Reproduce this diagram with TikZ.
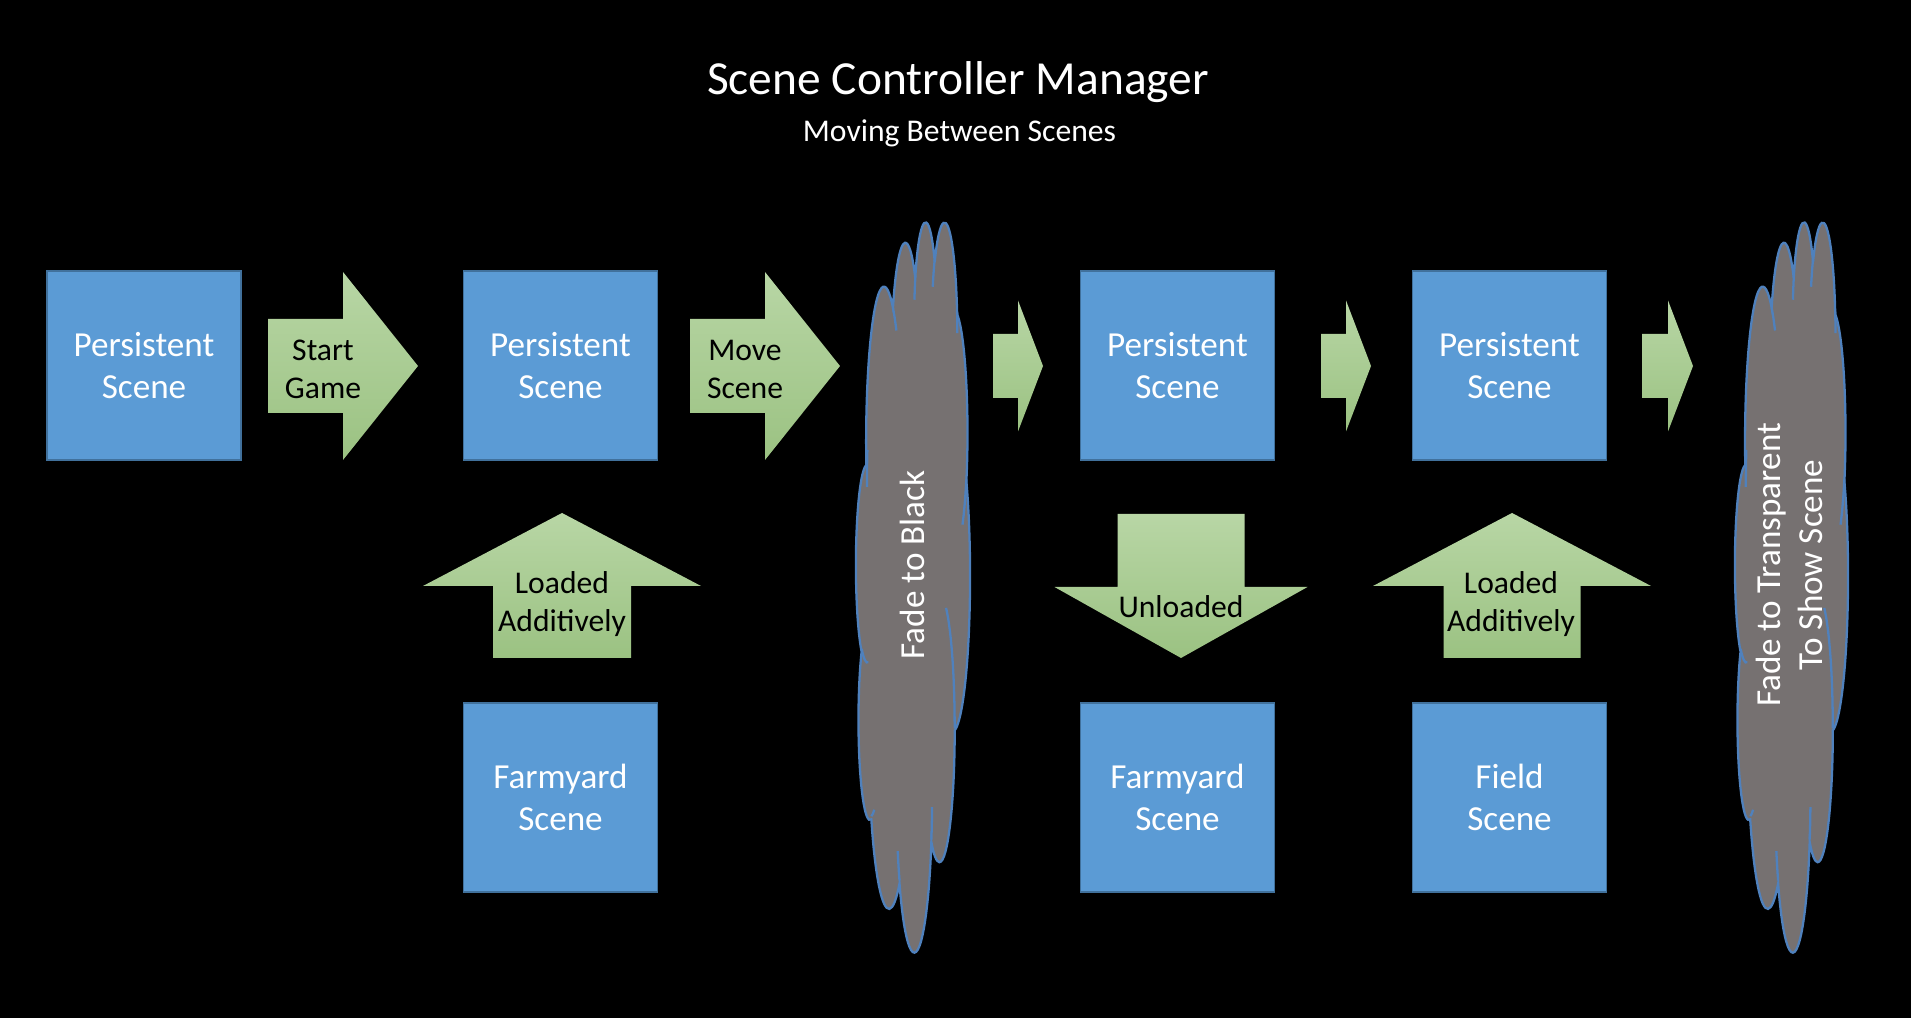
\documentclass[tikz,border=0pt]{standalone}
\usepackage{fontspec}
\setmainfont{Carlito}

\definecolor{boxblue}{RGB}{91,155,213}
\definecolor{boxline}{RGB}{65,113,156}
\definecolor{cloudgray}{RGB}{118,113,113}
\definecolor{cloudline}{RGB}{79,129,189}
\definecolor{arrowlight}{RGB}{184,214,165}
\definecolor{arrowdark}{RGB}{155,194,130}

\begin{document}
\begin{tikzpicture}[
    box/.style={rectangle, draw=boxline, fill=boxblue, line width=0.8pt, minimum width=3.88cm, minimum height=3.78cm, align=center, text=white, font=\fontsize{20}{24}\selectfont},
    blockarrow/.style={top color=arrowlight, bottom color=arrowdark},
    arrowtext/.style={align=center, text=black, font=\fontsize{18}{21.6}\selectfont},
    fadetext/.style={align=center, rotate=90, text=white, font=\fontsize{20}{24}\selectfont},
    pics/officecloud/.style={code={
        % outline
        \filldraw[fill=cloudgray, draw=cloudline, line width=1.3pt]
            (3.9,14.37)
            \foreach \rx/\ry/\st/\sw [evaluate=\st as \ta using {atan2(\rx*sin(\st),\ry*cos(\st))},
                evaluate=\sw as \da using {mod(atan2(\rx*sin(\st+\sw),\ry*cos(\st+\sw))-\ta+720,360)}] in
            {6.753/9.190/-190.4875/123.7805, 5.333/7.267/-144.1024/89.9452,
             4.365/5.945/-145.8079/99.7230, 4.857/6.595/-130.9861/117.2417,
             5.333/7.273/-78.7089/109.0269, 6.775/9.220/-46.2673/130.2690,
             5.785/7.867/0.6250/114.0333, 6.752/9.215/22.4516/115.1726,
             7.720/10.543/66.2426/75.7110, 4.360/5.918/-274.9421/146.7356,
             4.345/5.945/-246.8285/152.5226}
            { arc[start angle=\ta, delta angle=\da, x radius=\rx, y radius=\ry] }
            -- cycle;
        % inner puff lines
        \draw[cloudline, line width=1.3pt]
            \foreach \px/\py/\rx/\ry/\st/\sw [evaluate=\st as \ta using {atan2(\rx*sin(\st),\ry*cos(\st))},
                evaluate=\sw as \da using {mod(atan2(\rx*sin(\st+\sw),\ry*cos(\st+\sw))-\ta+720,360)}] in
            {4.693/26.177/4.345/5.945/86.7420/26.4295, 6.928/34.899/4.360/5.918/73.6105/11.4475,
             16.478/39.090/6.752/9.215/137.6242/14.0811, 28.827/34.751/6.752/9.215/6.4533/15.9984,
             34.129/22.954/5.785/7.867/-70.2924/70.9174, 41.798/15.354/5.333/7.273/30.3180/27.7515,
             38.324/5.426/4.857/6.595/-13.7443/14.8589, 29.078/3.952/4.857/6.595/-149.1815/18.1954,
             22.141/4.720/4.365/5.945/-163.4943/17.6864, 14.000/5.192/6.753/9.190/-66.7070/12.3194,
             4.127/15.789/6.753/9.190/180/18.4447}
            { (\px,\py) arc[start angle=\ta, delta angle=\da, x radius=\rx, y radius=\ry] };
    }}
]

\useasboundingbox (0,0) rectangle (38.22,20.36);
\fill[black] (0,0) rectangle (38.22,20.36);

% Title
\node[text=white, font=\fontsize{27}{32}\selectfont] (title) at (19.16,18.72) {Scene Controller Manager};
\node[text=white, font=\fontsize{18}{21.6}\selectfont] (subtitle) at (19.19,17.70) {Moving Between Scenes};

% Scenes
\node[box] (ps1) at (2.88,13.05) {Persistent\\Scene};
\node[box] (ps2) at (11.21,13.05) {Persistent\\Scene};
\node[box] (ps3) at (23.55,13.05) {Persistent\\Scene};
\node[box] (ps4) at (30.19,13.05) {Persistent\\Scene};
\node[box] (farm1) at (11.21,4.41) {Farmyard\\Scene};
\node[box] (farm2) at (23.55,4.41) {Farmyard\\Scene};
\node[box] (field) at (30.19,4.41) {Field\\Scene};

% Block arrows along the top row
\shade[blockarrow] (5.36,13.98) -- (6.86,13.98) -- (6.86,14.92) -- (8.36,13.04) -- (6.86,11.16) -- (6.86,12.10) -- (5.36,12.10) -- cycle;
\shade[blockarrow] (13.80,13.98) -- (15.30,13.98) -- (15.30,14.92) -- (16.80,13.04) -- (15.30,11.16) -- (15.30,12.10) -- (13.80,12.10) -- cycle;
\shade[blockarrow] (19.86,13.68) -- (20.36,13.68) -- (20.36,14.35) -- (20.86,13.04) -- (20.36,11.73) -- (20.36,12.40) -- (19.86,12.40) -- cycle;
\shade[blockarrow] (26.42,13.68) -- (26.92,13.68) -- (26.92,14.35) -- (27.42,13.04) -- (26.92,11.73) -- (26.92,12.40) -- (26.42,12.40) -- cycle;
\shade[blockarrow] (32.84,13.68) -- (33.36,13.68) -- (33.36,14.35) -- (33.86,13.04) -- (33.36,11.73) -- (33.36,12.40) -- (32.84,12.40) -- cycle;

\node[arrowtext] (startlbl) at (6.46,12.98) {Start\\Game};
\node[arrowtext] (movelbl) at (14.90,12.98) {Move\\Scene};

% Loading and unloading
\shade[blockarrow] (11.24,10.10) -- (14.02,8.64) -- (12.62,8.64) -- (12.62,7.20) -- (9.86,7.20) -- (9.86,8.64) -- (8.46,8.64) -- cycle;
\shade[blockarrow] (22.35,10.08) -- (24.89,10.08) -- (24.89,8.62) -- (26.15,8.62) -- (23.62,7.20) -- (21.09,8.62) -- (22.35,8.62) -- cycle;
\shade[blockarrow] (30.24,10.10) -- (33.02,8.64) -- (31.61,8.64) -- (31.61,7.20) -- (28.87,7.20) -- (28.87,8.64) -- (27.46,8.64) -- cycle;

\node[arrowtext] (loadlbl1) at (11.24,8.28) {Loaded\\Additively};
\node[arrowtext] (unloadlbl) at (23.62,8.22) {Unloaded};
\node[arrowtext] (loadlbl2) at (30.22,8.28) {Loaded\\Additively};

% Fades (cloud outline in a 43.2 x 43.2 frame, y pointing down)
\begin{scope}[x=0.05278cm, y=-0.33796cm, shift={(17.12cm,15.96cm)}]
  \pic {officecloud};
\end{scope}
\begin{scope}[x=0.05231cm, y=-0.33796cm, shift={(34.70cm,15.96cm)}]
  \pic {officecloud};
\end{scope}

\node[fadetext] (fade1) at (18.24,9.06) {Fade to Black};
\node[fadetext] (fade2) at (35.78,9.06) {Fade to Transparent\\To Show Scene};

\end{tikzpicture}
\end{document}
